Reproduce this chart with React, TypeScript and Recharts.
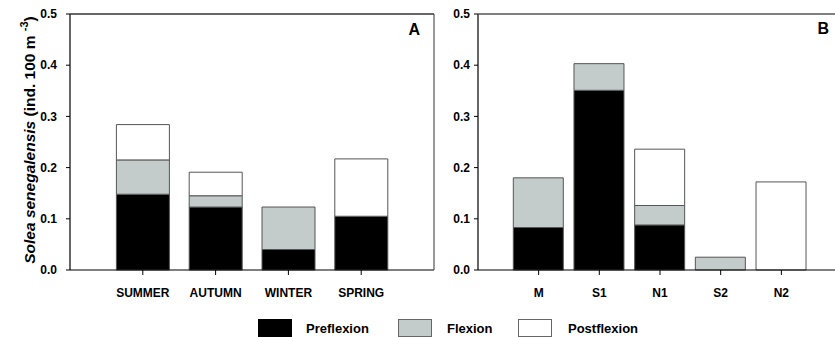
import React from "react";
import { BarChart, Bar, XAxis, YAxis } from "recharts";

// Seasonal densities (panel A)
const seasons = ["SUMMER", "AUTUMN", "WINTER", "SPRING"];
const seasonPreflexion = [0.148, 0.123, 0.04, 0.105];
const seasonFlexion = [0.067, 0.022, 0.083, 0.0];
const seasonPostflexion = [0.069, 0.046, 0.0, 0.112];

// Station densities (panel B)
const stations = ["M", "S1", "N1", "S2", "N2"];
const stationPreflexion = [0.083, 0.351, 0.088, 0.0, 0.0];
const stationFlexion = [0.097, 0.052, 0.038, 0.025, 0.0];
const stationPostflexion = [0.0, 0.0, 0.11, 0.0, 0.172];

const yTicks = [0, 0.1, 0.2, 0.3, 0.4, 0.5];
const yMax = 0.5;
const stageNames = ["Preflexion", "Flexion", "Postflexion"];
const stageFills = ["#000000", "#c3cccb", "#ffffff"];
const stageStrokes = ["#555555", "#555555", "#555555"];

const FONT = "'Liberation Sans', Arial, sans-serif";
const CHART_H = 300;
const MARGIN_TOP = 14;

const seasonData = seasons.map((name, i) => ({
  name,
  pre: seasonPreflexion[i],
  flex: seasonFlexion[i],
  post: seasonPostflexion[i],
}));

const stationData = stations.map((name, i) => ({
  name,
  pre: stationPreflexion[i],
  flex: stationFlexion[i],
  post: stationPostflexion[i],
}));

const tickStyle = { fill: "#000", fontSize: 12, fontWeight: 700, fontFamily: FONT };

type PanelProps = {
  data: typeof seasonData;
  width: number;
  yAxisWidth: number;
  yTickMargin: number;
  pad: number;
  barSize: number;
};

function Panel({ data, width, yAxisWidth, yTickMargin, pad, barSize }: PanelProps) {
  const keys = ["pre", "flex", "post"];
  return (
    <BarChart
      width={width}
      height={CHART_H}
      data={data}
      margin={{ top: MARGIN_TOP, right: 0, bottom: 0, left: 0 }}
    >
      <XAxis
        dataKey="name"
        padding={{ left: pad, right: pad }}
        tick={tickStyle}
        tickSize={5}
        tickMargin={13}
        height={30}
        axisLine={{ stroke: "#000", strokeWidth: 1.2 }}
        tickLine={{ stroke: "#000" }}
        interval={0}
      />
      <YAxis
        domain={[0, yMax]}
        ticks={yTicks}
        tickFormatter={(v: number) => v.toFixed(1)}
        tick={tickStyle}
        tickSize={4}
        tickMargin={yTickMargin}
        width={yAxisWidth}
        axisLine={{ stroke: "#000", strokeWidth: 1.2 }}
        tickLine={{ stroke: "#000" }}
        interval={0}
      />
      {/* right edge of the plot frame */}
      <YAxis
        yAxisId="right"
        orientation="right"
        domain={[0, yMax]}
        width={6}
        tick={false}
        axisLine={{ stroke: "#555", strokeWidth: 1.2 }}
      />
      {keys.map((k, i) => (
        <Bar
          key={k}
          dataKey={k}
          name={stageNames[i]}
          stackId="s"
          barSize={barSize}
          fill={stageFills[i]}
          stroke={stageStrokes[i]}
          strokeWidth={1}
          isAnimationActive={false}
        />
      ))}
    </BarChart>
  );
}

function StageLegend() {
  const items = [
    { x: 258, tx: 306 },
    { x: 398, tx: 447 },
    { x: 518, tx: 568 },
  ];
  return (
    <svg width={835} height={30} style={{ position: "absolute", left: 0, top: 310 }}>
      {items.map((it, i) => (
        <g key={stageNames[i]}>
          <rect
            x={it.x + 0.5}
            y={9.5}
            width={33}
            height={17}
            fill={stageFills[i]}
            stroke={i === 0 ? "#000" : "#666"}
          />
          <text
            x={it.tx}
            y={22.5}
            fontFamily={FONT}
            fontSize={13}
            fontWeight={700}
            fill="#000"
          >
            {stageNames[i]}
          </text>
        </g>
      ))}
    </svg>
  );
}

export default function App() {
  return (
    <div
      style={{
        position: "fixed",
        left: 0,
        top: 0,
        width: 835,
        height: 337,
        overflow: "hidden",
        background: "#fff",
      }}
    >
      <div style={{ position: "absolute", left: 0, top: 0 }}>
        <Panel
          data={seasonData}
          width={440}
          yAxisWidth={70}
          yTickMargin={9}
          pad={36.4}
          barSize={53}
        />
      </div>
      <div style={{ position: "absolute", left: 420, top: 0 }}>
        <Panel
          data={stationData}
          width={428}
          yAxisWidth={58}
          yTickMargin={4}
          pad={30.3}
          barSize={50}
        />
      </div>
      <svg width={835} height={300} style={{ position: "absolute", left: 0, top: 0, pointerEvents: "none" }}>
        {/* top edges of the two plot frames */}
        <line x1={70} y1={MARGIN_TOP} x2={434} y2={MARGIN_TOP} stroke="#333" strokeWidth={1.5} />
        <line x1={478} y1={MARGIN_TOP} x2={835} y2={MARGIN_TOP} stroke="#555" strokeWidth={1.5} />
        <text
          transform="translate(35,140) rotate(-90)"
          textAnchor="middle"
          fontFamily={FONT}
          fontSize={15.5}
          fontWeight={700}
          fill="#000"
        >
          <tspan fontStyle="italic">Solea senegalensis</tspan>
          <tspan> (ind. 100 m </tspan>
          <tspan fontSize={11} dy={-7}>-3</tspan>
          <tspan dy={7}>)</tspan>
        </text>
        <text x={420} y={35} textAnchor="end" fontFamily={FONT} fontSize={16} fontWeight={700} fill="#000">
          A
        </text>
        <text x={829} y={34} textAnchor="end" fontFamily={FONT} fontSize={16} fontWeight={700} fill="#000">
          B
        </text>
      </svg>
      <StageLegend />
    </div>
  );
}
